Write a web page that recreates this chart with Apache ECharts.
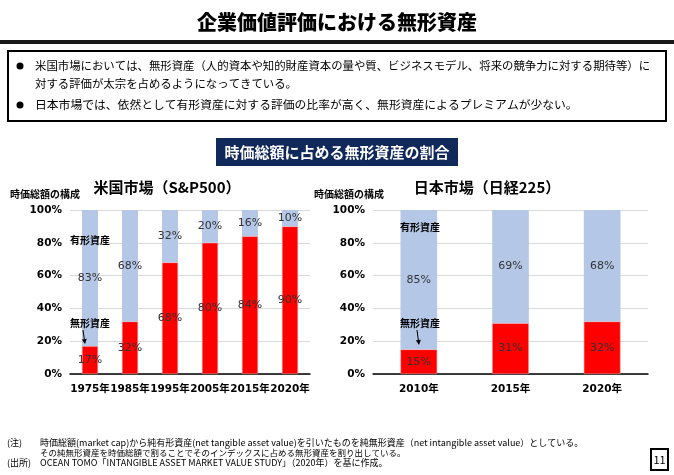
<!DOCTYPE html>
<html><head><meta charset="utf-8">
<script src="https://cdn.jsdelivr.net/npm/echarts@6/dist/echarts.min.js"></script>
<style>html,body{margin:0;padding:0;background:#fff}#c{width:674px;height:475px}</style>
</head><body><div id="c"></div>
<script>
const usCategories = ['1975年','1985年','1995年','2005年','2015年','2020年'];
const usIntangible = [17, 32, 68, 80, 84, 90];
const usTangible = [83, 68, 32, 20, 16, 10];
const jpCategories = ['2010年','2015年','2020年'];
const jpIntangible = [15, 31, 32];
const jpTangible = [85, 69, 68];
const yTicks = [0, 20, 40, 60, 80, 100];

const JP = '"Noto Sans CJK JP", sans-serif';
const NUM = '"DejaVu Sans", "Noto Sans CJK JP", sans-serif';
const RED = '#ff0000', BLUE = '#b4c7e7';

const chart = echarts.init(document.getElementById('c'), null, {renderer:'canvas'});

function yAxis(idx){
  return {gridIndex: idx, type:'value', min: yTicks[0], max: yTicks[yTicks.length-1], interval: yTicks[1]-yTicks[0],
    axisLine:{show:false}, axisTick:{show:false},
    splitLine:{lineStyle:{color:'#d9d9d9', width:1}},
    axisLabel:{formatter: v => v + '%', fontFamily: NUM, fontWeight:'bold', fontSize:10.5, color:'#000', margin:8}};
}
function xAxis(idx, cats){
  return {gridIndex: idx, type:'category', data: cats,
    axisLine:{lineStyle:{color:'#000', width:1.5}}, axisTick:{show:false},
    axisLabel:{interval:0, fontFamily: NUM, fontWeight:'bold', fontSize:10.5, color:'#000', margin:10}};
}
const lbl = {show:true, position:'inside', formatter: p => p.value + '%', fontFamily: NUM, fontSize:11, color:'#333'};
function bars(idx, inta, tang, stack){
  return [
    {type:'bar', xAxisIndex:idx, yAxisIndex:idx, stack, data: inta, barWidth:'40%',
     itemStyle:{color:RED, borderColor:'#f4a0a0', borderWidth:0.5}, label:lbl},
    {type:'bar', xAxisIndex:idx, yAxisIndex:idx, stack, data: tang, barWidth:'40%',
     itemStyle:{color:BLUE}, label:lbl}
  ];
}
function txt(x, y, s, size, opts){
  const w = (opts && opts.weight) || (opts && opts.bold===false ? 'normal' : 'bold');
  return {type:'text', x, y, z:100, style:Object.assign({text:s, font: w + ' ' + size + 'px ' + JP,
    fill:'#000', textAlign:'center', textVerticalAlign:'middle'}, (opts&&opts.style)||{})};
}
function arrow(x1,y1,x2,y2){
  const ang = Math.atan2(y2-y1, x2-x1), L=5, W=2.5;
  const bx = x2 - L*Math.cos(ang), by = y2 - L*Math.sin(ang);
  const px = -Math.sin(ang)*W, py = Math.cos(ang)*W;
  return [
    {type:'line', z:100, shape:{x1,y1,x2:bx,y2:by}, style:{stroke:'#000', lineWidth:1}},
    {type:'polygon', z:100, shape:{points:[[x2,y2],[bx+px,by+py],[bx-px,by-py]]}, style:{fill:'#000'}}
  ];
}

const graphics = [
  txt(337, 22, '企業価値評価における無形資産', 20, {weight:'900'}),
  {type:'rect', shape:{x:0, y:40, width:674, height:4}, style:{fill:'#1a1a1a'}},
  {type:'rect', shape:{x:8, y:51, width:658, height:70}, style:{fill:'#fff', stroke:'#000', lineWidth:2}},
  {type:'circle', z:100, shape:{cx:20, cy:66, r:3.5}, style:{fill:'#000'}},
  {type:'circle', z:100, shape:{cx:20, cy:105, r:3.5}, style:{fill:'#000'}},
  txt(35, 66, '米国市場においては、無形資産（人的資本や知的財産資本の量や質、ビジネスモデル、将来の競争力に対する期待等）に', 11.4, {bold:false, style:{textAlign:'left'}}),
  txt(35, 84, '対する評価が太宗を占めるようになってきている。', 11.4, {bold:false, style:{textAlign:'left'}}),
  txt(35, 105, '日本市場では、依然として有形資産に対する評価の比率が高く、無形資産によるプレミアムが少ない。', 11.8, {bold:false, style:{textAlign:'left'}}),
  {type:'rect', shape:{x:216, y:138, width:242, height:28}, style:{fill:'#10285a'}},
  txt(337, 152, '時価総額に占める無形資産の割合', 15, {style:{fill:'#fff'}}),
  txt(167, 187, '米国市場（S&P500）', 15),
  txt(487, 187, '日本市場（日経225）', 15),
  txt(10, 194, '時価総額の構成', 10, {style:{textAlign:'left'}}),
  txt(314, 194, '時価総額の構成', 10, {style:{textAlign:'left'}}),
  txt(90, 240, '有形資産', 10),
  txt(90, 323, '無形資産', 10),
  txt(420, 227, '有形資産', 10),
  txt(420, 323, '無形資産', 10),
  ...arrow(83, 330, 85, 344),
  ...arrow(417, 330, 419, 345),
  txt(7, 443, '(注)', 9, {bold:false, style:{textAlign:'left'}}),
  txt(40, 443, '時価総額(market cap)から純有形資産(net tangible asset value)を引いたものを純無形資産（net intangible asset value）としている。', 9, {bold:false, style:{textAlign:'left'}}),
  txt(40, 453, 'その純無形資産を時価総額で割ることでそのインデックスに占める無形資産を割り出している。', 8.5, {bold:false, style:{textAlign:'left'}}),
  txt(7, 463, '(出所)', 9, {bold:false, style:{textAlign:'left'}}),
  txt(40, 463, 'OCEAN TOMO「INTANGIBLE ASSET MARKET VALUE STUDY」（2020年）を基に作成。', 9, {bold:false, style:{textAlign:'left'}}),
  {type:'rect', shape:{x:651, y:449, width:17, height:21}, style:{fill:'#fff', stroke:'#000', lineWidth:2}},
  txt(659.5, 459.5, '11', 11, {bold:false})
];

chart.setOption({
  animation:false,
  grid:[
    {left:70, right:364, top:210, height:164, containLabel:false},
    {left:373, right:26, top:210, height:164, containLabel:false}
  ],
  xAxis:[xAxis(0, usCategories), xAxis(1, jpCategories)],
  yAxis:[yAxis(0), yAxis(1)],
  series:[...bars(0, usIntangible, usTangible, 'us'), ...bars(1, jpIntangible, jpTangible, 'jp')],
  graphic: graphics
});
</script></body></html>
